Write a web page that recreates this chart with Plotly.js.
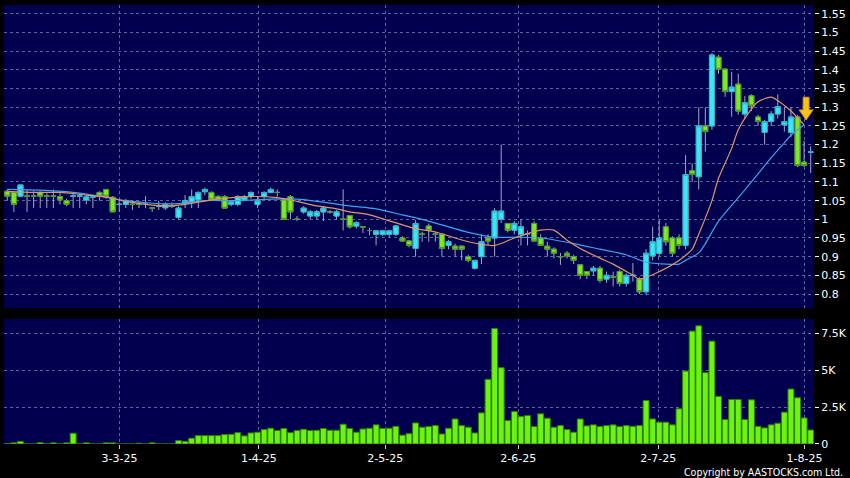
<!DOCTYPE html>
<html><head><meta charset="utf-8">
<script src="https://cdn.plot.ly/plotly-3.0.1.min.js"></script>
<style>html,body{margin:0;padding:0;background:#000;}#chart{width:850px;height:478px;}</style>
</head><body><div id="chart"></div>
<script>
const dates = [
'2025-02-05','2025-02-06','2025-02-07','2025-02-10','2025-02-11','2025-02-12','2025-02-13','2025-02-14','2025-02-17','2025-02-18',
'2025-02-19','2025-02-20','2025-02-21','2025-02-24','2025-02-25','2025-02-26','2025-02-27','2025-02-28',
'2025-03-03','2025-03-04','2025-03-05','2025-03-06','2025-03-07','2025-03-10','2025-03-11','2025-03-12','2025-03-13','2025-03-14',
'2025-03-17','2025-03-18','2025-03-19','2025-03-20','2025-03-21','2025-03-24','2025-03-25','2025-03-26','2025-03-27','2025-03-28','2025-03-31',
'2025-04-01','2025-04-02','2025-04-03','2025-04-07','2025-04-08','2025-04-09','2025-04-10','2025-04-11','2025-04-14','2025-04-15',
'2025-04-16','2025-04-17','2025-04-22','2025-04-23','2025-04-24','2025-04-25','2025-04-28','2025-04-29','2025-04-30',
'2025-05-02','2025-05-06','2025-05-07','2025-05-08','2025-05-09','2025-05-12','2025-05-13','2025-05-14','2025-05-15','2025-05-16',
'2025-05-19','2025-05-20','2025-05-21','2025-05-22','2025-05-23','2025-05-26','2025-05-27','2025-05-28','2025-05-29','2025-05-30',
'2025-06-02','2025-06-03','2025-06-04','2025-06-05','2025-06-06','2025-06-09','2025-06-10','2025-06-11','2025-06-12','2025-06-13',
'2025-06-16','2025-06-17','2025-06-18','2025-06-19','2025-06-20','2025-06-23','2025-06-24','2025-06-25','2025-06-26','2025-06-27','2025-06-30',
'2025-07-02','2025-07-03','2025-07-04','2025-07-07','2025-07-08','2025-07-09','2025-07-10','2025-07-11','2025-07-14','2025-07-15',
'2025-07-16','2025-07-17','2025-07-18','2025-07-21','2025-07-22','2025-07-23','2025-07-24','2025-07-25','2025-07-28','2025-07-29',
'2025-07-30','2025-07-31','2025-08-01','2025-08-04'];

const openP = [
1.075,1.072,1.062,1.062,1.062,1.072,1.062,1.062,1.061,1.05,
1.062,1.062,1.052,1.06,1.072,1.08,1.059,1.04,1.04,1.04,
1.04,1.04,1.03,1.035,1.031,1.035,1.005,1.043,1.046,1.052,
1.074,1.072,1.061,1.061,1.04,1.04,1.052,1.062,1.04,1.061,
1.072,1.072,1.052,1.061,1.0,1.02,1.009,1.009,1.02,1.02,
1.009,1.0,1.01,0.982,0.98,0.97,0.96,0.96,0.96,0.96,
0.95,0.942,0.922,0.96,0.982,0.96,0.96,0.93,0.928,0.928,
0.9,0.869,0.9,0.95,0.95,1.0,0.989,0.971,0.96,0.96,
0.989,0.95,0.928,0.92,0.9,0.909,0.9,0.878,0.86,0.862,
0.869,0.84,0.845,0.86,0.828,0.85,0.84,0.806,0.902,0.909,
0.98,0.95,0.95,0.93,1.13,1.114,1.25,1.25,1.434,1.402,
1.342,1.362,1.282,1.331,1.274,1.233,1.262,1.282,1.253,1.233,
1.274,1.153,1.18];
const highP = [
1.08,1.075,1.092,1.078,1.075,1.075,1.07,1.08,1.07,1.055,
1.072,1.07,1.065,1.065,1.075,1.08,1.062,1.05,1.055,1.05,
1.05,1.062,1.03,1.05,1.045,1.045,1.035,1.065,1.08,1.075,
1.085,1.075,1.065,1.065,1.05,1.065,1.065,1.075,1.062,1.075,
1.085,1.08,1.055,1.065,1.009,1.035,1.025,1.025,1.035,1.025,
1.025,1.08,1.012,0.995,0.981,0.977,0.972,0.972,0.972,0.985,
0.955,0.945,0.998,0.967,0.989,0.967,0.962,0.945,0.935,0.93,
0.905,0.89,0.96,0.96,1.03,1.2,0.99,0.995,1.0,0.97,
0.995,0.96,0.94,0.925,0.91,0.915,0.905,0.88,0.862,0.875,
0.875,0.86,0.86,0.865,0.855,0.883,0.845,0.92,0.98,0.998,
0.99,0.955,0.96,1.172,1.15,1.30,1.30,1.445,1.44,1.405,
1.395,1.39,1.33,1.335,1.28,1.266,1.29,1.335,1.30,1.30,
1.28,1.21,1.195];
const lowP = [
1.05,1.02,1.06,1.02,1.03,1.03,1.03,1.03,1.04,1.035,
1.03,1.03,1.04,1.03,1.05,1.055,1.02,1.02,1.03,1.025,
1.03,1.03,1.02,1.025,1.025,1.03,1.0,1.03,1.03,1.03,
1.065,1.05,1.05,1.03,1.035,1.035,1.05,1.055,1.03,1.055,
1.07,1.061,1.0,1.0,0.995,1.015,1.0,1.0,0.995,1.015,
1.0,0.97,0.975,0.975,0.963,0.957,0.93,0.955,0.952,0.955,
0.94,0.925,0.90,0.94,0.94,0.94,0.90,0.92,0.90,0.89,
0.885,0.865,0.88,0.93,0.90,0.99,0.965,0.96,0.93,0.93,
0.94,0.93,0.90,0.895,0.878,0.895,0.88,0.84,0.84,0.85,
0.83,0.83,0.82,0.82,0.82,0.833,0.80,0.797,0.89,0.90,
0.93,0.90,0.92,0.92,1.10,1.08,1.181,1.24,1.39,1.328,
1.275,1.28,1.27,1.29,1.25,1.20,1.25,1.27,1.235,1.22,
1.14,1.14,1.124];
const closeP = [
1.062,1.04,1.092,1.062,1.062,1.062,1.062,1.062,1.052,1.04,
1.062,1.062,1.06,1.06,1.062,1.062,1.02,1.04,1.05,1.04,
1.04,1.04,1.03,1.035,1.04,1.035,1.03,1.05,1.061,1.072,
1.08,1.052,1.052,1.03,1.047,1.061,1.061,1.072,1.05,1.072,
1.08,1.072,1.0,1.02,1.0,1.03,1.02,1.02,1.03,1.02,
1.02,1.0,0.98,0.991,0.98,0.97,0.969,0.969,0.969,0.982,
0.942,0.93,0.989,0.96,0.971,0.96,0.922,0.94,0.92,0.92,
0.89,0.89,0.94,0.942,1.022,1.022,0.971,0.989,0.98,0.96,
0.942,0.93,0.92,0.909,0.9,0.902,0.89,0.85,0.85,0.869,
0.837,0.85,0.845,0.828,0.85,0.85,0.806,0.909,0.94,0.95,
0.94,0.909,0.93,1.12,1.12,1.25,1.235,1.44,1.402,1.342,
1.354,1.29,1.312,1.304,1.262,1.262,1.282,1.302,1.262,1.274,
1.144,1.144,1.18];
const volume = [
30,80,180,0,0,100,0,80,0,80,
730,0,80,0,0,80,80,0,0,0,
50,0,80,0,0,0,230,180,390,570,
570,570,570,640,660,770,550,750,800,980,
1070,910,1050,770,910,1000,910,930,1050,930,
930,1340,1050,800,1020,1070,1300,1050,1070,1200,
600,700,1430,1140,1180,1250,680,1070,1700,1250,
1140,750,2110,4390,7840,5180,1590,2200,1860,1930,
1180,2050,1750,1140,1250,980,800,1700,1230,1300,
1180,1250,1300,1180,1250,1200,1250,2950,1700,1480,
1480,1300,2390,4950,7660,8020,4840,6980,3230,1660,
3020,3020,1660,3000,1200,1090,1300,1410,2160,3730,
3140,1770,950];

const ma10Idx = [0,4,8,12,15,18,22,25,28,32,37,41,44,47,50,52,55,60,62,65,70,74,77,81,83,85,87,90,92,95,96,99,102,104,105,107,108,110,111,113,114,116,118,119,121];
const ma10 = [1.075,1.072,1.072,1.065,1.06,1.048,1.038,1.036,1.043,1.055,1.061,1.058,1.048,1.036,1.028,1.02,1.012,0.985,0.975,0.966,0.94,0.93,0.95,0.971,0.971,0.944,0.922,0.896,0.88,0.85,0.84,0.86,0.89,0.92,0.96,1.05,1.11,1.19,1.24,1.295,1.315,1.327,1.305,1.29,1.253];
const ma20Idx = [0,5,10,14,18,22,26,30,35,40,44,48,52,56,60,63,66,70,74,78,82,86,90,94,97,100,102,103,105,106,108,111,113,116,118,119,121];
const ma20 = [1.08,1.078,1.072,1.062,1.05,1.043,1.042,1.05,1.05,1.054,1.054,1.046,1.036,1.028,1.012,1.0,0.985,0.965,0.952,0.952,0.948,0.935,0.92,0.905,0.885,0.88,0.88,0.89,0.91,0.935,0.995,1.058,1.1,1.165,1.205,1.225,1.253];

const tickLabels = ['3-3-25','1-4-25','2-5-25','2-6-25','2-7-25','1-8-25'];
const priceTicks = [0.8,0.85,0.9,0.95,1,1.05,1.1,1.15,1.2,1.25,1.3,1.35,1.4,1.45,1.5,1.55];
const priceTickLabels = ['0.8','0.85','0.9','0.95','1','1.05','1.1','1.15','1.2','1.25','1.3','1.35','1.4','1.45','1.5','1.55'];
const volTicks = [0,2500,5000,7500];
const volTickLabels = ['0','2.5K','5K','7.5K'];

// layout: where the date labels sit along the bar slots
const X_TICK_POS = [17.05, 38.2, 57.4, 77.6, 98.85, 121.05];

const idx = dates.map((d, i) => i);
const bodyHigh = openP.map((o, i) => Math.max(o, closeP[i]));
const bodyLow = openP.map((o, i) => Math.min(o, closeP[i]));

const GRID = '#6262a0';
const GRIDDASH = '3px,3px';
const wicks = {
  type: 'candlestick', x: idx, open: openP, high: highP, low: lowP, close: closeP,
  xaxis: 'x', yaxis: 'y', hoverinfo: 'skip', showlegend: false,
  increasing: {line: {color: '#a6a6c2', width: 1}, fillcolor: 'rgba(0,0,0,0)'},
  decreasing: {line: {color: '#a6a6c2', width: 1}, fillcolor: 'rgba(0,0,0,0)'}
};
const bodies = {
  type: 'candlestick', x: idx, open: openP, high: bodyHigh, low: bodyLow, close: closeP,
  xaxis: 'x', yaxis: 'y', showlegend: false,
  increasing: {line: {color: '#26b8cc', width: 1}, fillcolor: '#3ee4f4'},
  decreasing: {line: {color: '#4a9a1c', width: 1}, fillcolor: '#7de82c'}
};
const line10 = {
  type: 'scatter', mode: 'lines', x: ma10Idx, y: ma10, xaxis: 'x', yaxis: 'y',
  line: {color: '#e0946a', width: 1.2, shape: 'spline', smoothing: 0.7}, showlegend: false, hoverinfo: 'skip'
};
const line20 = {
  type: 'scatter', mode: 'lines', x: ma20Idx, y: ma20, xaxis: 'x', yaxis: 'y',
  line: {color: '#3ba4ec', width: 1.2, shape: 'spline', smoothing: 0.7}, showlegend: false, hoverinfo: 'skip'
};
const vol = {
  type: 'bar', x: idx, y: volume, xaxis: 'x2', yaxis: 'y2', showlegend: false,
  marker: {color: '#6cf312', line: {color: '#2f7f00', width: 1}}
};

const xCommon = {
  range: [-0.5, 122.5], tickvals: X_TICK_POS, ticktext: tickLabels,
  showgrid: true, gridcolor: GRID, griddash: GRIDDASH, gridwidth: 1,
  zeroline: false, showline: false, fixedrange: true
};

const layout = {
  width: 850, height: 478,
  margin: {l: 4, r: 36, t: 5, b: 34},
  paper_bgcolor: '#000000', plot_bgcolor: '#00004f',
  boxgap: 0.13, boxgroupgap: 0.13, bargap: 0.1,
  showlegend: false,
  xaxis: Object.assign({}, xCommon, {anchor: 'y', showticklabels: false, ticks: '', rangeslider: {visible: false}}),
  xaxis2: Object.assign({}, xCommon, {anchor: 'y2', showticklabels: true, ticks: 'outside', ticklen: 4, tickcolor: '#cfcfcf',
    tickfont: {family: 'DejaVu Sans', size: 11, color: '#ffffff'}}),
  yaxis: {domain: [0.3098, 1], anchor: 'x', side: 'right', range: [0.7625, 1.574],
    tickvals: priceTicks, ticktext: priceTickLabels, ticks: 'outside', ticklen: 4, tickcolor: '#ffffff',
    tickfont: {family: 'DejaVu Sans', size: 11, color: '#ffffff'},
    showgrid: true, gridcolor: GRID, griddash: GRIDDASH, zeroline: false, showline: false, fixedrange: true},
  yaxis2: {domain: [0, 0.2847], anchor: 'x2', side: 'right', range: [0, 8480],
    tickvals: volTicks, ticktext: volTickLabels, ticks: 'outside', ticklen: 4, tickcolor: '#ffffff',
    tickfont: {family: 'DejaVu Sans', size: 11, color: '#ffffff'},
    showgrid: true, gridcolor: GRID, griddash: GRIDDASH, zeroline: false, showline: false, fixedrange: true},
  shapes: [{
    type: 'path', xref: 'x', yref: 'y',
    path: 'M 120.85 1.327 L 121.75 1.327 L 121.75 1.293 L 122.35 1.293 L 121.3 1.266 L 120.25 1.293 L 120.85 1.293 Z',
    fillcolor: '#f6c21e', line: {color: '#d8960a', width: 1}
  }],
  annotations: [{
    xref: 'paper', yref: 'paper', x: 1.038, y: -0.064, xanchor: 'right', yanchor: 'middle',
    text: 'Copyright by AASTOCKS.com Ltd.', showarrow: false,
    font: {family: 'DejaVu Sans Condensed, DejaVu Sans', size: 10.5, color: '#ffffff'}
  }]
};

Plotly.newPlot('chart', [wicks, bodies, line20, line10, vol], layout, {displayModeBar: false, staticPlot: true});
</script>
</body></html>
